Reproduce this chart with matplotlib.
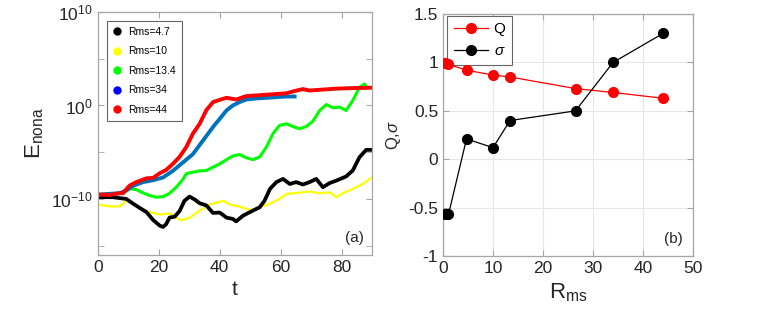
import matplotlib
matplotlib.use('Agg')
import matplotlib.pyplot as plt
from matplotlib.lines import Line2D
import numpy as np

plt.rcParams['font.family'] = ['Liberation Sans', 'DejaVu Sans']
plt.rcParams['mathtext.fontset'] = 'custom'
plt.rcParams['mathtext.rm'] = 'Liberation Sans'
plt.rcParams['mathtext.it'] = 'Liberation Sans:italic'

# panel (a): log10(E_nona)
t_44 = [0, 3.8, 7.1, 8.2, 10.4, 12.6, 15.9, 18.1, 20.3, 22.4, 24.6, 26.8, 29, 31.2, 33.4,
        35.6, 37.8, 40, 42.2, 44.3, 45.4, 48.7, 53.1, 57.5, 61.9, 64, 67.3, 69.5, 73.9,
        78.3, 82.7, 90]
e_44 = [-9.54, -9.57, -9.39, -9.39, -8.57, -8.2, -7.8, -7.75, -7.25, -6.9, -6.25, -5.5,
        -4.46, -3.0, -1.96, -0.5, 0.36, 0.6, 0.82, 0.7, 0.64, 1.0, 1.1, 1.2, 1.3, 1.5,
        1.75, 1.6, 1.7, 1.8, 1.85, 1.9]

t_34 = [0, 7.1, 9.3, 11.5, 14.8, 18.1, 21.4, 24.6, 27.9, 31.2, 34.5, 37.8, 40, 42.2,
        44.3, 46.5, 48.7, 52, 55.3, 58.6, 61.9, 64.6]
e_34 = [-9.54, -9.39, -9.1, -8.6, -8.2, -8.0, -7.7, -7.0, -6.1, -5.2, -3.75, -2.3,
        -1.43, -0.54, 0.0, 0.36, 0.64, 0.75, 0.82, 0.89, 0.96, 0.96]

t_134 = [0, 3.8, 7.1, 8.2, 10.4, 12.6, 14.8, 17, 19.2, 21.4, 23.5, 25.7, 27.9, 29, 31.2,
         33.4, 35.6, 37.8, 40, 42.2, 44.3, 46.5, 48.7, 50.9, 53.1, 55.3, 57.5, 59.6, 61.9,
         64, 66.2, 68.4, 70.6, 72.8, 75, 77.2, 79.4, 81.5, 83.7, 85.9, 87.6, 88.1]
e_134 = [-9.54, -9.57, -9.39, -9.4, -8.9, -9.0, -9.36, -9.64, -9.82, -9.75, -9.4, -8.75,
         -7.9, -7.3, -7.14, -7.0, -6.96, -6.6, -6.25, -5.8, -5.4, -5.25, -5.6, -5.8, -5.5,
         -4.46, -3.0, -2.14, -1.96, -2.25, -2.5, -2.25, -1.68, -0.54, 0.1, -0.25, -0.18,
         -0.54, 0.54, 1.96, 2.3, 1.96]

t_47 = [0, 4.9, 9.3, 11.5, 13.7, 15.9, 18.1, 20.3, 21.4, 22.4, 23.5, 25.2, 26.8, 28.4,
        30.1, 31.8, 33.4, 35.6, 37.8, 40, 42.2, 44.3, 45.4, 47.6, 50.9, 53.1, 54.7, 56.5,
        58.6, 60.8, 63, 65.1, 67.3, 69.5, 71.7, 73.9, 76.1, 78.3, 81.5, 83.7, 85.9, 88.1, 90]
e_47 = [-9.8, -9.82, -10.0, -10.5, -10.96, -11.4, -12.25, -12.86, -13.0, -12.7, -12.0,
        -11.9, -11.3, -10.2, -9.75, -10.07, -10.46, -10.7, -11.5, -11.46, -12.0, -12.14,
        -12.4, -11.8, -11.25, -10.9, -10.2, -8.93, -8.2, -7.86, -8.4, -8.2, -8.46, -8.2,
        -7.86, -8.75, -8.3, -8.04, -7.6, -6.96, -5.54, -4.75, -4.75]

t_10 = [0, 3.8, 7.1, 9.3, 11.5, 13.7, 17, 20.3, 23.5, 25.7, 27.3, 30.1, 33.4, 36.7, 38.9,
        41.1, 43.3, 46.5, 49.9, 53.1, 56.5, 59.6, 61.9, 64, 67.3, 69.5, 72.8, 76.1, 78.3,
        80.4, 83.7, 87, 90]
e_10 = [-10.6, -10.8, -10.8, -10.2, -10.5, -11.07, -11.43, -11.68, -11.54, -12.0, -12.3,
        -12.0, -11.25, -10.6, -10.4, -10.2, -10.6, -10.82, -11.18, -10.9, -10.5, -10.0,
        -9.46, -9.4, -9.3, -9.2, -9.4, -9.3, -9.82, -9.4, -8.93, -8.4, -7.68]

# panel (b)
rms = [0.5, 1.1, 4.7, 10, 13.4, 26.5, 34, 44]
q_vals = [0.99, 0.98, 0.92, 0.87, 0.85, 0.73, 0.69, 0.63]
sigma_vals = [-0.57, -0.57, 0.21, 0.12, 0.40, 0.50, 1.0, 1.3]

fig = plt.figure(figsize=(7.63, 3.27), dpi=100)
ax1 = fig.add_axes([0.1284, 0.2202, 0.3591, 0.7431])
ax2 = fig.add_axes([0.5806, 0.217, 0.3277, 0.740])

spine_col = '#a6a6a6'
text_col = '#262626'

ax1.plot(t_10, 10.0 ** np.array(e_10), color='#ffff00', lw=1.6)
ax1.plot(t_134, 10.0 ** np.array(e_134), color='#00ff00', lw=2.2)
ax1.plot(t_47, 10.0 ** np.array(e_47), color='black', lw=2.7)
ax1.plot(t_34, 10.0 ** np.array(e_34), color='#0072bd', lw=2.8)
ax1.plot(t_44, 10.0 ** np.array(e_44), color='#ff0000', lw=2.8)
ax1.set_yscale('log')
ax1.set_xlim(0, 90)
ax1.set_ylim(1e-16, 1e10)
ax1.set_xticks([0, 20, 40, 60, 80])
ax1.set_yticks([1e-10, 1e0, 1e10])
ax1.set_yticklabels(['$10^{-10}$', '$10^{0}$', '$10^{10}$'])
ax1.set_yticks([1e-15, 1e-5, 1e5], minor=True)
ax1.yaxis.set_minor_formatter(plt.NullFormatter())
ax1.set_xlabel('t', fontsize=15, color=text_col)
ax1.set_ylabel('$\\mathrm{E}_{\\mathrm{nona}}$', fontsize=16, color=text_col)
ax1.text(0.97, 0.04, '(a)', transform=ax1.transAxes, ha='right', va='bottom',
         fontsize=11, color=text_col)

handles = [Line2D([], [], ls='none', marker='o', ms=5, color=c) for c in
           ['black', '#ffff00', '#00ff00', '#0000ff', '#ff0000']]
leg1 = ax1.legend(handles, ['Rms=4.7', 'Rms=10', 'Rms=13.4', 'Rms=34', 'Rms=44'],
                  loc='upper left', bbox_to_anchor=(0.015, 0.985), fontsize=7.5,
                  frameon=True, fancybox=False, edgecolor='#666666', framealpha=1,
                  handlelength=0.6, handletextpad=0.8, labelspacing=0.9,
                  borderpad=0.6)
leg1.get_frame().set_linewidth(0.8)

ax2.grid(True, color='#e6e6e6', lw=0.8)
ax2.set_axisbelow(True)
ax2.plot(rms, q_vals, color='#ff0000', marker='o', ms=7, lw=0.9, label='Q', zorder=3)
ax2.plot(rms, sigma_vals, color='black', marker='o', ms=7, lw=0.9, label='$\\sigma$',
         zorder=3)
ax2.set_xlim(0, 50)
ax2.set_ylim(-1, 1.5)
ax2.set_xticks([0, 10, 20, 30, 40, 50])
ax2.set_yticks([-1, -0.5, 0, 0.5, 1, 1.5])
ax2.set_yticklabels(['-1', '-0.5', '0', '0.5', '1', '1.5'])
ax2.set_xlabel('$\\mathrm{R}_{\\mathrm{ms}}$', fontsize=16, color=text_col)
ax2.set_ylabel('Q,$\\sigma$', fontsize=12, color=text_col)
ax2.text(0.96, 0.04, '(b)', transform=ax2.transAxes, ha='right', va='bottom',
         fontsize=11, color=text_col)
leg2 = ax2.legend(loc='upper left', bbox_to_anchor=(0.01, 1.0), fontsize=11,
                  frameon=True, fancybox=False, edgecolor='#666666', framealpha=1,
                  handlelength=2.2, handletextpad=0.4, borderpad=0.45, labelspacing=0.5,
                  borderaxespad=0.1)
leg2.get_frame().set_linewidth(0.8)
leg2.set_zorder(2.5)

for ax in (ax1, ax2):
    for s in ax.spines.values():
        s.set_color(spine_col)
        s.set_linewidth(0.9)
    ax.tick_params(which='both', direction='in', top=True, right=True,
                   colors=spine_col, labelcolor=text_col, labelsize=12.5)
    ax.tick_params(which='major', length=4)
    ax.tick_params(which='minor', length=4)

fig.savefig('out.png', dpi=100)
